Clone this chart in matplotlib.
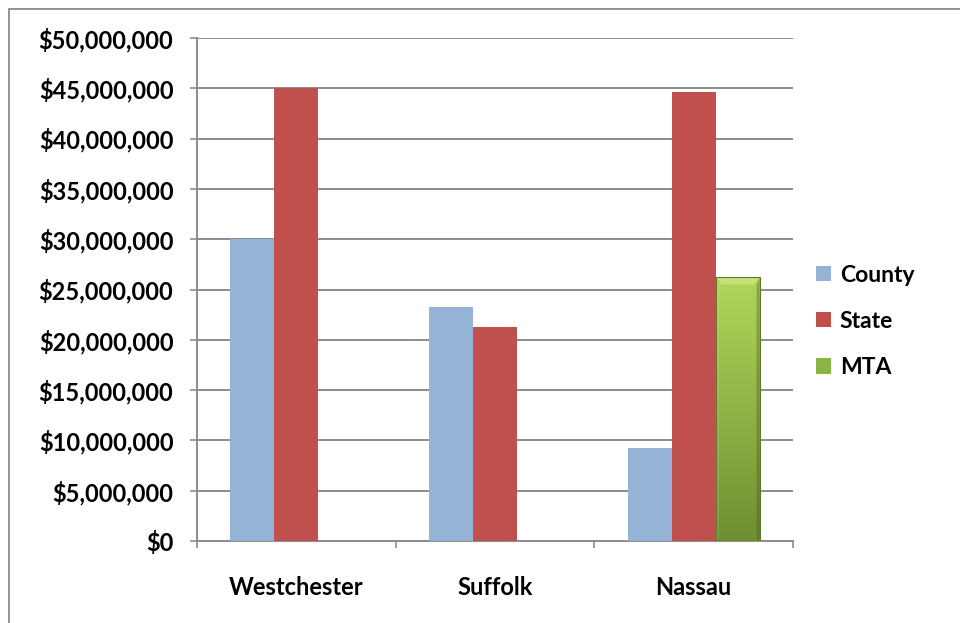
import numpy as np
import matplotlib
matplotlib.use("Agg")
import matplotlib.pyplot as plt
from matplotlib.patches import Rectangle, Polygon
from matplotlib.ticker import FuncFormatter, MultipleLocator

plt.rcParams['font.family'] = ['Lato', 'DejaVu Sans']

counties = ["Westchester", "Suffolk", "Nassau"]
county_funds = [30_000_000, 23_300_000, 9_200_000]
state_funds = [45_000_000, 21_300_000, 44_600_000]
mta_funds = [0, 0, 26_200_000]
series_names = ["County", "State", "MTA"]

c_county = "#95b3d7"
c_state = "#c0504d"
c_mta_top = "#b0d85a"
c_mta_bot = "#6f8f32"
grid_col = "#8c8c8c"

fig = plt.figure(figsize=(9.6, 6.23), dpi=100)
ax = fig.add_axes([197 / 960, 82 / 623, 596 / 960, 503 / 623])

# outer chart frame
fig.patches.append(Rectangle((9 / 960, -0.05), 1.2, (623 - 9) / 623 + 0.05,
                             transform=fig.transFigure, fill=False,
                             edgecolor="#8a8a8a", linewidth=1.3))

x = np.arange(len(counties))
w = 0.2215

ax.bar(x - w, county_funds, w, color=c_county, zorder=3, label=series_names[0])
ax.bar(x, state_funds, w, color=c_state, zorder=3, label=series_names[1])

# gradient-shaded bevelled bars for the third series
grad = np.linspace(0, 1, 256).reshape(-1, 1)
cmap = matplotlib.colors.LinearSegmentedColormap.from_list("mta", [c_mta_bot, c_mta_top])
for xi, v in zip(x + w, mta_funds):
    if v <= 0:
        continue
    x0, x1 = xi - w / 2, xi + w / 2
    # soft shadow
    ax.add_patch(Rectangle((x0 + 0.004, -250_000), w, v, color="#000000",
                           alpha=0.18, zorder=2.5, linewidth=0))
    im = ax.imshow(grad, extent=(x0, x1, 0, v), origin="lower", cmap=cmap,
                   aspect="auto", zorder=3, interpolation="bicubic")
    clip = Rectangle((x0, 0), w, v, transform=ax.transData, facecolor="none",
                     edgecolor="none")
    ax.add_patch(clip)
    im.set_clip_path(clip)
    bev_x = w * 0.14
    bev_y = 700_000
    # top bevel
    ax.add_patch(Polygon([(x0, v), (x1, v), (x1 - bev_x, v - bev_y), (x0 + bev_x, v - bev_y)],
                         closed=True, facecolor="#c4e27a", edgecolor="none", zorder=3.2))
    # side bevels
    ax.add_patch(Polygon([(x0, v), (x0 + bev_x * 0.5, v - bev_y), (x0 + bev_x * 0.5, bev_y * 0.3), (x0, 0)],
                         closed=True, facecolor="#ffffff", alpha=0.12, edgecolor="none", zorder=3.2))
    ax.add_patch(Polygon([(x1, v), (x1 - bev_x * 0.5, v - bev_y), (x1 - bev_x * 0.5, bev_y * 0.3), (x1, 0)],
                         closed=True, facecolor="#3e5218", alpha=0.35, edgecolor="none", zorder=3.2))
    ax.add_patch(Rectangle((x0, 0), w, v, facecolor="none", edgecolor="#5f7a2a",
                           linewidth=0.8, zorder=3.3))
    ax.bar([xi], [0], w, color="#8db344", label=series_names[2])

ax.set_xlim(-0.5, 2.5)
ax.set_ylim(0, 50_000_000)
ax.yaxis.set_major_locator(MultipleLocator(5_000_000))
ax.yaxis.set_major_formatter(FuncFormatter(lambda v, p: f"${v:,.0f}"))
ax.grid(axis="y", color=grid_col, linewidth=1.4, zorder=0)

ax.set_xticks(x)
ax.set_xticklabels(counties)
ax.set_xticks(np.arange(-0.5, 3.0, 1.0), minor=True)
ax.tick_params(axis="x", which="major", length=0, pad=25, labelsize=17)
ax.tick_params(axis="x", which="minor", length=5, width=1.2, color=grid_col, direction="out")
ax.tick_params(axis="y", length=5, width=1.2, color=grid_col, pad=12, labelsize=17)
for lab in ax.get_xticklabels() + ax.get_yticklabels():
    lab.set_fontweight("bold")

for side in ["top", "right"]:
    ax.spines[side].set_visible(False)
for side in ["left", "bottom"]:
    ax.spines[side].set_color(grid_col)
    ax.spines[side].set_linewidth(1.4)

leg = fig.legend(loc="upper left", bbox_to_anchor=(795 / 960, 1 - 244 / 623),
                 frameon=False, fontsize=16.5, handlelength=0.65, handleheight=0.65,
                 handletextpad=0.4, labelspacing=1.1)
for t in leg.get_texts():
    t.set_fontweight("bold")

fig.savefig("out.png", dpi=100)
